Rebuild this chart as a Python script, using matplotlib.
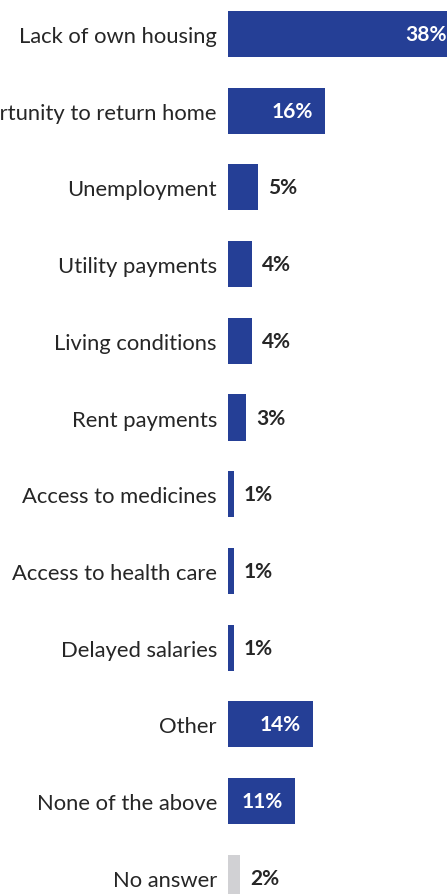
import matplotlib
matplotlib.use("Agg")
import matplotlib.pyplot as plt

categories = [
    "Lack of own housing",
    "Lack of opportunity to return home",
    "Unemployment",
    "Utility payments",
    "Living conditions",
    "Rent payments",
    "Access to medicines",
    "Access to health care",
    "Delayed salaries",
    "Other",
    "None of the above",
    "No answer",
]
values = [38, 16, 5, 4, 4, 3, 1, 1, 1, 14, 11, 2]

BLUE = "#253F96"
GREY = "#D1D1D4"
TEXT = "#262626"

plt.rcParams["font.family"] = ["Lato", "DejaVu Sans"]

fig = plt.figure(figsize=(4.47, 8.95), dpi=100)
ax = fig.add_axes([228 / 447, 0, 1 - 228 / 447, 1])

px_per_unit = 6.06
ax.set_xlim(0, (447 - 228) / px_per_unit)
row_px = 76.7
ax.set_ylim((895 - 35) / row_px, -35 / row_px)

ypos = list(range(len(categories)))
colors = [GREY if c == "No answer" else BLUE for c in categories]
ax.barh(ypos, values, height=0.6, color=colors, clip_on=False)

for y, v in zip(ypos, values):
    if v >= 10:
        ax.annotate(f"{v}%", (v, y), xytext=(-8.5, 0), textcoords="offset points",
                    ha="right", va="center", color="white", fontsize=15,
                    fontweight="bold", annotation_clip=False)
    else:
        ax.annotate(f"{v}%", (v, y), xytext=(7, 0), textcoords="offset points",
                    ha="left", va="center", color=TEXT, fontsize=15,
                    fontweight="bold", annotation_clip=False)

ax.set_yticks(ypos)
ax.set_yticklabels(categories, fontsize=15.8, color=TEXT)
ax.tick_params(axis="y", length=0, pad=8)
ax.set_xticks([])
for s in ax.spines.values():
    s.set_visible(False)

fig.savefig("out.png", dpi=100)
